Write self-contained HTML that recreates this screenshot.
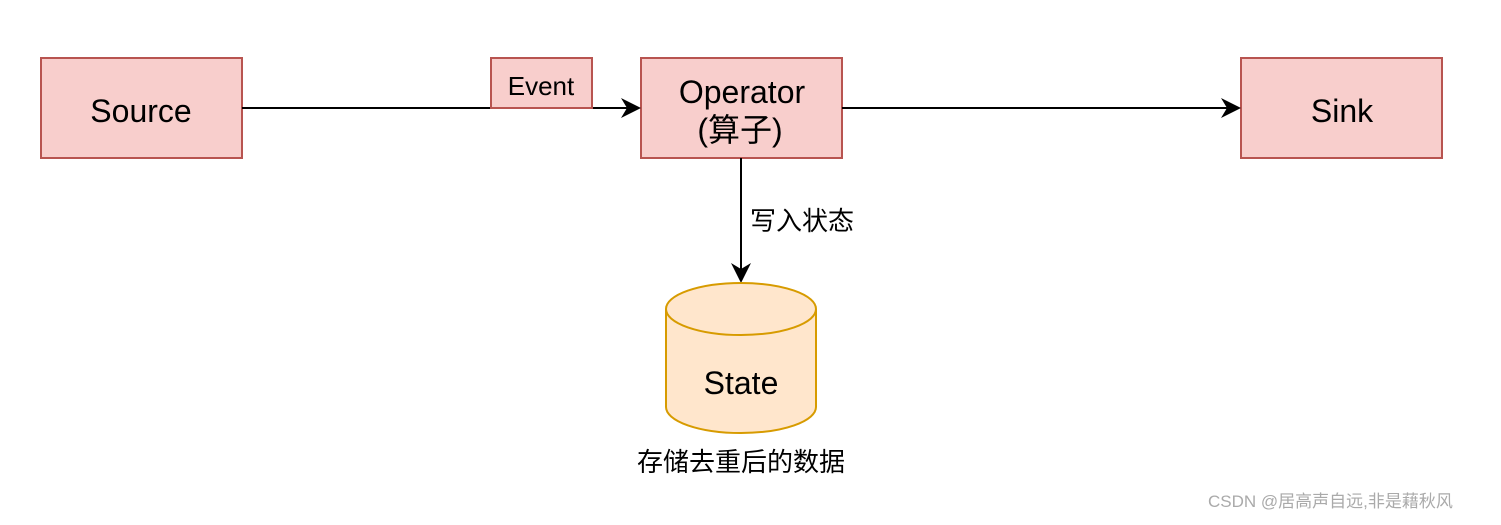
<!DOCTYPE html>
<html><head><meta charset="utf-8"><style>
body{margin:0;background:#fff;}
svg text{font-family:"Liberation Sans","Noto Sans CJK SC",sans-serif;}
</style></head><body>
<svg width="1501" height="520" viewBox="0 0 1501 520" xmlns="http://www.w3.org/2000/svg">
<rect width="1501" height="520" fill="#fff"/>
<g stroke="#b85450" stroke-width="2" fill="#f8cecc">
<rect x="41" y="58" width="201" height="100"/>
<rect x="641" y="58" width="201" height="100"/>
<rect x="1241" y="58" width="201" height="100"/>
</g>
<g stroke="#000" stroke-width="2" fill="none">
<line x1="242" y1="108" x2="628" y2="108"/>
<line x1="842" y1="108" x2="1228" y2="108"/>
<line x1="741" y1="158" x2="741" y2="270"/>
</g>
<g fill="#000">
<path d="M641 108 L621 98 L627 108 L621 118 Z"/>
<path d="M1241 108 L1221 98 L1227 108 L1221 118 Z"/>
<path d="M741 283 L731 263 L741 269 L751 263 Z"/>
</g>
<rect x="491" y="58" width="101" height="50" fill="#f8cecc" stroke="#b85450" stroke-width="2"/>
<path d="M666 309 A75 26 0 0 1 816 309 L816 407 A75 26 0 0 1 666 407 Z" fill="#ffe6cc" stroke="#d79b00" stroke-width="2"/>
<path d="M666 309 A75 26 0 0 0 816 309" fill="none" stroke="#d79b00" stroke-width="2"/>
<g font-size="32" fill="#000" text-anchor="middle">
<text x="141" y="122">Source</text>
<text x="1342" y="122">Sink</text>
<text x="742" y="103">Operator</text>
<text x="740" y="141">(算子)</text>
<text x="741" y="394">State</text>
</g>
<text x="541" y="95" font-size="26" text-anchor="middle">Event</text>
<text x="750" y="230" font-size="26">写入状态</text>
<text x="741" y="471" font-size="26" text-anchor="middle">存储去重后的数据</text>
<text x="1208" y="507" font-size="17" fill="#aaa">CSDN @居高声自远,非是藉秋风</text>
</svg>
</body></html>
